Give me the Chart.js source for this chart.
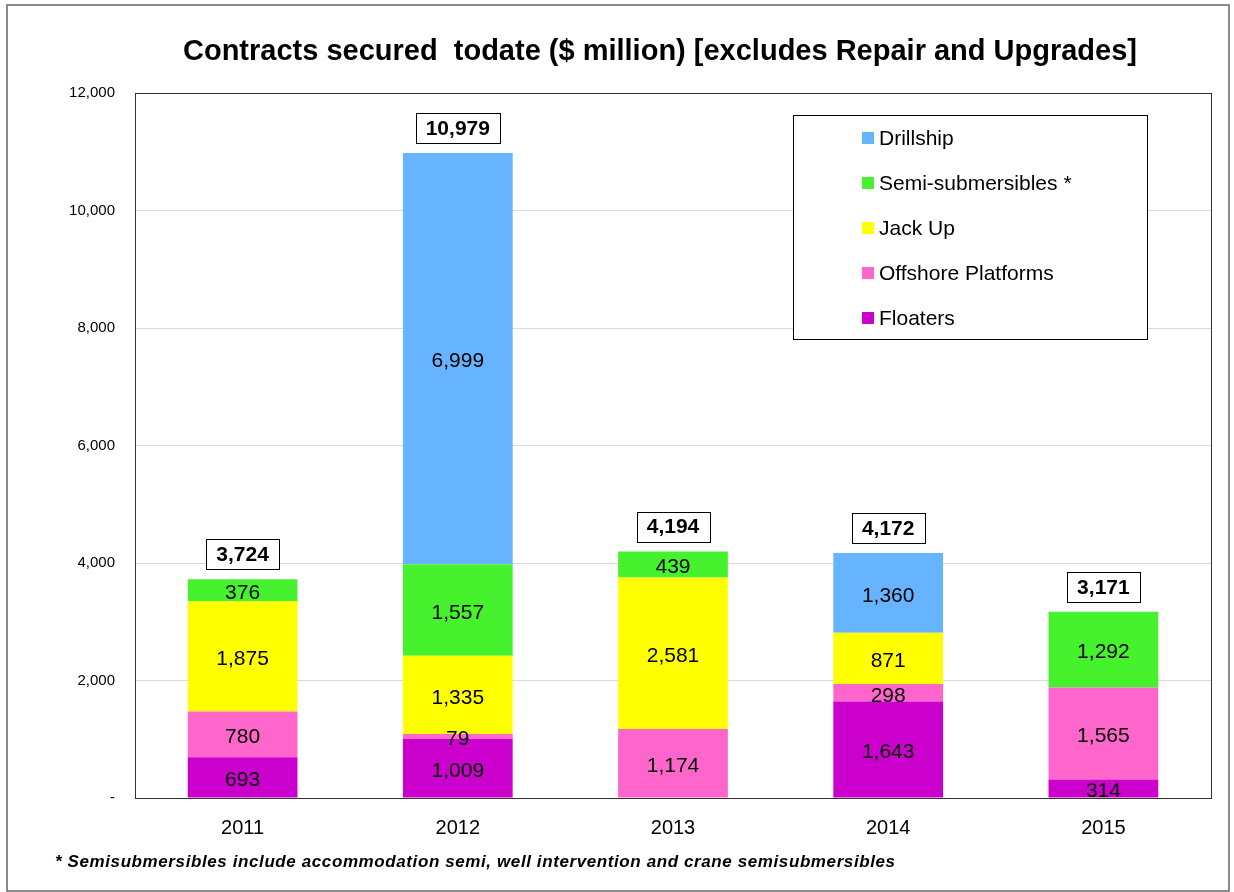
<!DOCTYPE html>
<html>
<head>
<meta charset="utf-8">
<script src="https://cdn.jsdelivr.net/npm/chart.js@4.4.0/dist/chart.umd.min.js"></script>
<style>
    html, body { margin: 0; padding: 0; background: #fff; }
    #wrap { width: 1234px; height: 892px; position: relative; }
</style>
</head>
<body>
<div id="wrap"><canvas id="contractsChart"></canvas></div>
<script>
// Contracts secured todate ($ million)

const years = ['2011', '2012', '2013', '2014', '2015'];

// stacked bottom -> top
const floaters  = [693, 1009, null, 1643, 314];
const offshore  = [780, 79, 1174, 298, 1565];
const jackUp    = [1875, 1335, 2581, 871, null];
const semiSub   = [376, 1557, 439, null, 1292];
const drillship = [null, 6999, null, 1360, null];

const totals = [3724, 10979, 4194, 4172, 3171];

const yTicks = [0, 2000, 4000, 6000, 8000, 10000, 12000];

const titleText = 'Contracts secured  todate ($ million) [excludes Repair and Upgrades]';
const footnote = '* Semisubmersibles include accommodation semi, well intervention and crane semisubmersibles';

const FONT = '"Liberation Sans", Arial, Helvetica, sans-serif';

function fmt(v) {
    return v.toLocaleString('en-US');
}

// Draws frame, title, footnote, legend box, segment values and totals
const decorPlugin = {
    id: 'decor',
    beforeDraw(chart) {
        const ctx = chart.ctx;
        ctx.save();
        ctx.fillStyle = '#fff';
        ctx.fillRect(0, 0, chart.width, chart.height);
        ctx.restore();
    },
    afterDatasetsDraw(chart) {
        const ctx = chart.ctx;
        const area = chart.chartArea;

        // segment values, clipped to plot area
        ctx.save();
        ctx.beginPath();
        ctx.rect(area.left, area.top, area.right - area.left, area.bottom - area.top);
        ctx.clip();
        ctx.font = '21px ' + FONT;
        ctx.fillStyle = '#000';
        ctx.textAlign = 'center';
        ctx.textBaseline = 'middle';
        chart.data.datasets.forEach((ds, i) => {
            const meta = chart.getDatasetMeta(i);
            meta.data.forEach((bar, j) => {
                const v = ds.data[j];
                if (v == null) return;
                ctx.fillText(fmt(v), bar.x, (bar.y + bar.base) / 2 + 3);
            });
        });
        ctx.restore();

        // plot border
        ctx.save();
        ctx.strokeStyle = '#333';
        ctx.lineWidth = 1;
        ctx.strokeRect(Math.round(area.left) + 0.5, Math.round(area.top) + 0.5,
            Math.round(area.right - area.left), Math.round(area.bottom - area.top));
        ctx.restore();

        // total boxes
        const yScale = chart.scales.y;
        const xScale = chart.scales.x;
        ctx.save();
        ctx.font = 'bold 21px ' + FONT;
        ctx.textAlign = 'center';
        ctx.textBaseline = 'middle';
        totals.forEach((t, j) => {
            const x = xScale.getPixelForValue(j);
            const top = yScale.getPixelForValue(t);
            const label = fmt(t);
            const w = ctx.measureText(label).width + 20;
            const h = 30;
            const by = top - 10 - h;
            ctx.fillStyle = '#fff';
            ctx.fillRect(x - w / 2, by, w, h);
            ctx.strokeStyle = '#000';
            ctx.lineWidth = 1;
            ctx.strokeRect(Math.round(x - w / 2) + 0.5, Math.round(by) + 0.5, Math.round(w), h);
            ctx.fillStyle = '#000';
            ctx.fillText(label, x, by + h / 2 + 1);
        });
        ctx.restore();

        // legend box
        ctx.save();
        ctx.fillStyle = '#fff';
        ctx.fillRect(793, 115, 354, 224);
        ctx.strokeStyle = '#000';
        ctx.lineWidth = 1;
        ctx.strokeRect(793.5, 115.5, 354, 224);
        ctx.font = '21px ' + FONT;
        ctx.textAlign = 'left';
        ctx.textBaseline = 'middle';
        const order = chart.data.datasets.slice().reverse();
        order.forEach((ds, k) => {
            const cy = 138 + k * 45;
            ctx.fillStyle = ds.backgroundColor;
            ctx.fillRect(862, cy - 6, 12, 12);
            ctx.fillStyle = '#000';
            ctx.fillText(ds.label, 879, cy + 1);
        });
        ctx.restore();

        // title
        ctx.save();
        ctx.font = 'bold 29px ' + FONT;
        ctx.fillStyle = '#000';
        ctx.textAlign = 'center';
        ctx.textBaseline = 'middle';
        ctx.fillText(titleText, 660, 52);

        // footnote
        ctx.font = 'italic bold 17px ' + FONT;
        ctx.letterSpacing = '0.6px';
        ctx.textAlign = 'left';
        ctx.fillText(footnote, 55, 862);
        ctx.letterSpacing = '0px';

        // outer frame
        ctx.strokeStyle = '#666';
        ctx.lineWidth = 1.5;
        ctx.strokeRect(7, 5, 1222, 886);
        ctx.restore();
    }
};

document.addEventListener('DOMContentLoaded', function() {
    const ctx = document.getElementById('contractsChart');

    new Chart(ctx, {
        type: 'bar',
        data: {
            labels: years,
            datasets: [
                { label: 'Floaters', data: floaters, backgroundColor: '#CC00CC' },
                { label: 'Offshore Platforms', data: offshore, backgroundColor: '#FF66CC' },
                { label: 'Jack Up', data: jackUp, backgroundColor: '#FFFF00' },
                { label: 'Semi-submersibles *', data: semiSub, backgroundColor: '#46F22E' },
                { label: 'Drillship', data: drillship, backgroundColor: '#66B3FF' }
            ]
        },
        options: {
            responsive: true,
            maintainAspectRatio: false,
            animation: false,
            devicePixelRatio: 1,
            layout: {
                padding: { top: 93, right: 23, bottom: 0, left: 0 }
            },
            datasets: {
                bar: {
                    categoryPercentage: 1.0,
                    barPercentage: 0.51,
                    borderWidth: 0
                }
            },
            plugins: {
                legend: { display: false },
                title: { display: false },
                tooltip: { enabled: false }
            },
            scales: {
                x: {
                    stacked: true,
                    grid: { display: false, drawTicks: false },
                    border: { display: false },
                    ticks: {
                        color: '#000',
                        font: { family: FONT, size: 20 },
                        padding: 18
                    },
                    afterFit(scale) { scale.height = 94; }
                },
                y: {
                    stacked: true,
                    min: 0,
                    max: 12000,
                    grid: { color: '#d9d9d9', drawTicks: false },
                    border: { display: false },
                    afterBuildTicks(scale) {
                        scale.ticks = yTicks.map(v => ({ value: v }));
                    },
                    ticks: {
                        color: '#000',
                        font: { family: FONT, size: 15 },
                        padding: 20,
                        callback: v => v === 0 ? '-' : fmt(v)
                    },
                    afterFit(scale) { scale.width = 135; }
                }
            }
        },
        plugins: [decorPlugin]
    });
});
</script>
</body>
</html>
